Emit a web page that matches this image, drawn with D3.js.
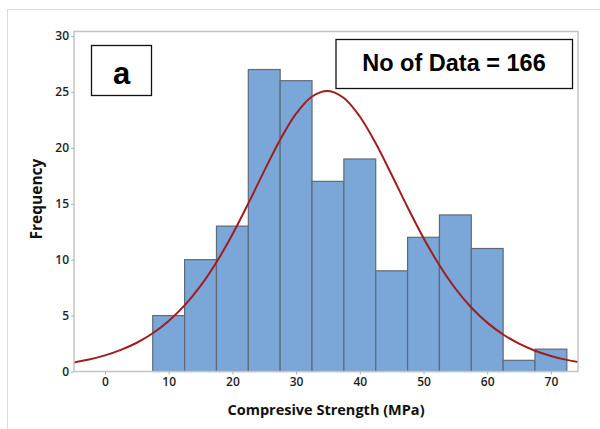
<!DOCTYPE html>
<html><head><meta charset="utf-8">
<script src="https://cdn.jsdelivr.net/npm/d3@7/dist/d3.min.js"></script>
<style>body{margin:0;background:#fff}</style></head>
<body>
<svg id="c" width="600" height="429"></svg>
<script>
const binCenters = [10, 15, 20, 25, 30, 35, 40, 45, 50, 55, 60, 65, 70];
const frequencies = [5, 10, 13, 27, 26, 17, 19, 9, 12, 14, 11, 1, 2];
const binWidth = 5;
const xTicks = [0, 10, 20, 30, 40, 50, 60, 70];
const yTicks = [0, 5, 10, 15, 20, 25, 30];
const fitX = [-5, -2.5, 0, 2.5, 5, 7.5, 10, 12.5, 15, 17.5, 20, 22.5, 25, 27.5, 30, 32.5, 35,
              37.5, 40, 42.5, 45, 47.5, 50, 52.5, 55, 57.5, 60, 62.5, 65, 67.5, 70, 72.5, 75];
const fitY = [0.80, 1.07, 1.44, 1.93, 2.57, 3.42, 4.52, 5.91, 7.65, 9.77, 12.25, 15.03, 17.94, 20.72, 23.05, 24.59, 25.09,
              24.46, 22.80, 20.40, 17.59, 14.69, 11.94, 9.50, 7.42, 5.72, 4.37, 3.31, 2.49, 1.86, 1.39, 1.04, 0.77];
const xTitle = "Compresive Strength (MPa)";
const yTitle = "Frequency";
const panelLabel = "a";
const countLabel = "No of Data = 166";

const svg = d3.select("#c");
const L = 74, R = 578, T = 31.5, B = 371.5;
const x = d3.scaleLinear().domain([-4.86, 74.25]).range([L, R]);
const y = d3.scaleLinear().domain([0, 30.4]).range([B, T]);

// outer frame
svg.append("rect").attr("x", 7.5).attr("y", 9.5).attr("width", 600).attr("height", 430)
  .attr("fill", "none").attr("stroke", "#dcdcdc").attr("stroke-width", 1);

svg.append("defs").append("clipPath").attr("id", "pc")
  .append("rect").attr("x", L).attr("y", T).attr("width", R - L).attr("height", B - T);

// bars
svg.append("g").selectAll("rect").data(binCenters).join("rect")
  .attr("x", (d) => x(d - binWidth / 2))
  .attr("width", (d) => x(d + binWidth / 2) - x(d - binWidth / 2))
  .attr("y", (d, i) => y(frequencies[i]))
  .attr("height", (d, i) => y(0) - y(frequencies[i]))
  .attr("fill", "#7ba6d8").attr("stroke", "#5f6a76").attr("stroke-width", 1.2);

// fit curve
const line = d3.line().x((d) => x(d[0])).y((d) => y(d[1])).curve(d3.curveCatmullRom);
svg.append("path").attr("clip-path", "url(#pc)")
  .datum(fitX.map((v, i) => [v, fitY[i]]))
  .attr("d", line).attr("fill", "none").attr("stroke", "#a11d1d").attr("stroke-width", 2);

// plot frame
svg.append("rect").attr("x", L).attr("y", T).attr("width", R - L).attr("height", B - T)
  .attr("fill", "none").attr("stroke", "#c4c4c4").attr("stroke-width", 1.5);

const tickFont = "'Open Sans', sans-serif";
// axes
const xAxis = svg.append("g").attr("transform", `translate(0,${B})`)
  .call(d3.axisBottom(x).tickValues(xTicks).tickSize(3).tickPadding(3));
const yAxis = svg.append("g").attr("transform", `translate(${L},0)`)
  .call(d3.axisLeft(y).tickValues(yTicks).tickSize(3).tickPadding(2));
[xAxis, yAxis].forEach((g) => {
  g.select(".domain").remove();
  g.selectAll("line").attr("stroke", "#b0b0b0");
  g.selectAll("text").attr("font-family", tickFont).attr("font-weight", 600)
    .attr("font-size", 12).attr("fill", "#1e1e1e");
});

svg.append("text").attr("x", (L + R) / 2).attr("y", 415).attr("text-anchor", "middle")
  .attr("font-family", tickFont).attr("font-weight", 700).attr("font-size", 14.5)
  .attr("fill", "#111").text(xTitle);
svg.append("text").attr("transform", "translate(42,199) rotate(-90)").attr("text-anchor", "middle")
  .attr("font-family", tickFont).attr("font-weight", 700).attr("font-size", 15.5)
  .attr("fill", "#111").text(yTitle);

// annotation boxes
svg.append("rect").attr("x", 91.5).attr("y", 45.5).attr("width", 60).attr("height", 50)
  .attr("fill", "#fff").attr("stroke", "#111").attr("stroke-width", 1.3);
svg.append("text").attr("x", 121.5).attr("y", 84).attr("text-anchor", "middle")
  .attr("font-family", "'Liberation Sans', Arial, sans-serif").attr("font-weight", 700)
  .attr("font-size", 31).attr("fill", "#000").text(panelLabel);
svg.append("rect").attr("x", 336).attr("y", 39.5).attr("width", 236.5).attr("height", 49)
  .attr("fill", "#fff").attr("stroke", "#111").attr("stroke-width", 1.3);
svg.append("text").attr("x", 454).attr("y", 70.5).attr("text-anchor", "middle")
  .attr("font-family", "'Liberation Sans', Arial, sans-serif").attr("font-weight", 700)
  .attr("font-size", 23.5).attr("fill", "#000").text(countLabel);
</script>
</body></html>
